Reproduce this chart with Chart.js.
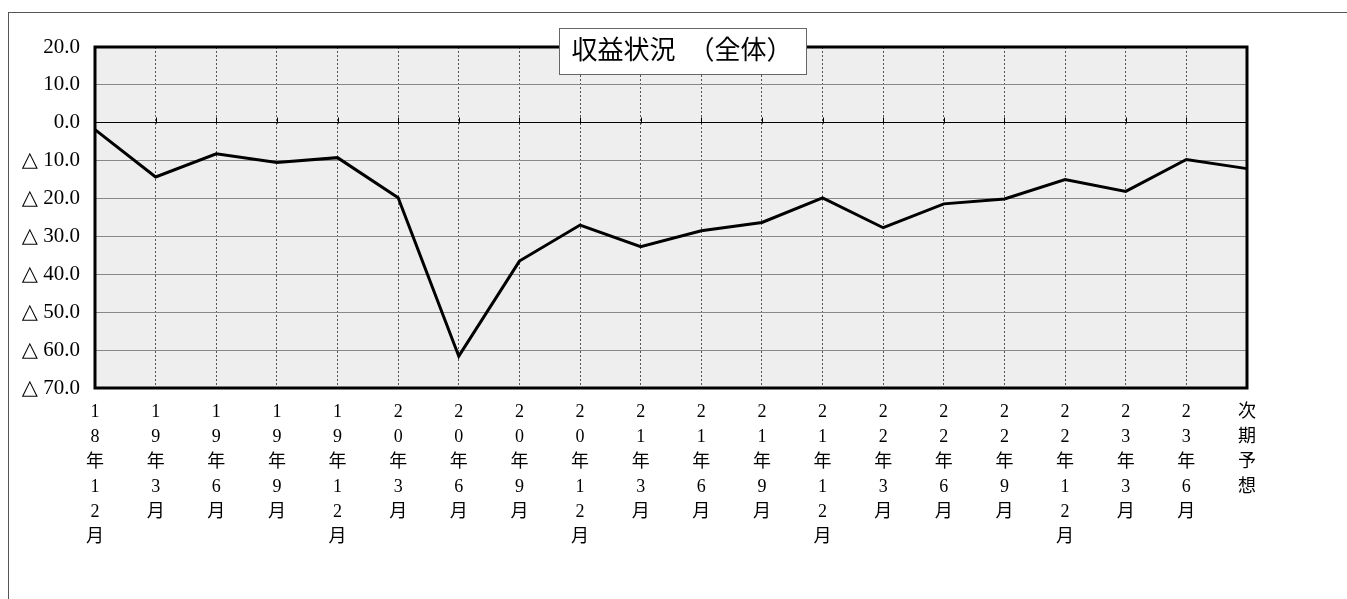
<!DOCTYPE html>
<html>
<head>
<meta charset="utf-8">
<title>収益状況（全体）</title>
<script src="https://cdn.jsdelivr.net/npm/chart.js@4.4.1/dist/chart.umd.min.js"></script>
<style>
  html, body { margin: 0; padding: 0; background: #fff; }
  #frame {
    position: absolute; left: 8px; top: 12px; width: 1339px; height: 587px;
    border-top: 1px solid #555; border-left: 1px solid #555; box-sizing: border-box;
  }
  #wrap { position: absolute; left: 0; top: 0; width: 1347px; height: 599px; }
</style>
</head>
<body>
<div id="frame"></div>
<div id="wrap"><canvas id="chartShueki"></canvas></div>
<script>
const categories = [
  "18年12月", "19年3月", "19年6月", "19年9月", "19年12月",
  "20年3月", "20年6月", "20年9月", "20年12月", "21年3月",
  "21年6月", "21年9月", "21年12月", "22年3月", "22年6月",
  "22年9月", "22年12月", "23年3月", "23年6月", "次期予想"
];
const profit = [
  -1.8, -14.3, -8.2, -10.5, -9.2,
  -19.8, -61.6, -36.5, -27.0, -32.7,
  -28.5, -26.3, -19.8, -27.7, -21.4,
  -20.1, -15.0, -18.1, -9.7, -12.1
];
const yTickValues = [20, 10, 0, -10, -20, -30, -40, -50, -60, -70];
const yTickLabels = ["20.0", "10.0", "0.0", "△ 10.0", "△ 20.0", "△ 30.0", "△ 40.0", "△ 50.0", "△ 60.0", "△ 70.0"];
const chartTitle = "収益状況　（全体）";

const serif = "'Liberation Serif', 'DejaVu Serif', 'Noto Sans CJK JP', serif";

// background, zero-line ticks, thick frame and the boxed title
const plotDecor = {
  id: "plotDecor",
  beforeDraw(chart) {
    const a = chart.chartArea, c = chart.ctx;
    c.save();
    c.fillStyle = "#eeeeee";
    c.fillRect(a.left, a.top, a.right - a.left, a.bottom - a.top);
    c.restore();
  },
  afterDatasetsDraw(chart) {
    const a = chart.chartArea, c = chart.ctx;
    const xs = chart.scales.x;
    const y0 = Math.round(chart.scales.y.getPixelForValue(0)) + 0.5;
    c.save();
    c.strokeStyle = "#000";
    c.lineWidth = 1;
    xs.ticks.forEach(function (t, i) {
      const px = Math.round(xs.getPixelForTick(i)) + 0.5;
      c.beginPath();
      c.moveTo(px, y0 - 6);
      c.lineTo(px, y0);
      c.stroke();
    });
    c.lineWidth = 3;
    c.strokeRect(a.left, a.top, a.right - a.left, a.bottom - a.top);

    c.font = "26px " + serif;
    const tw = c.measureText(chartTitle).width;
    const bw = Math.max(247, tw + 20), bh = 46;
    const cx = (a.left + a.right) / 2 + 11;
    const bx = Math.round(cx - bw / 2) + 0.5, by = a.top - 19 + 0.5;
    c.fillStyle = "#fff";
    c.fillRect(bx, by, bw, bh);
    c.strokeStyle = "#666";
    c.lineWidth = 1;
    c.strokeRect(bx, by, bw, bh);
    c.fillStyle = "#000";
    c.textAlign = "center";
    c.textBaseline = "middle";
    c.fillText(chartTitle, cx, by + bh / 2 + 1);
    c.restore();
  }
};

document.addEventListener("DOMContentLoaded", function () {
  const ctx = document.getElementById("chartShueki").getContext("2d");

  new Chart(ctx, {
    type: "line",
    data: {
      labels: categories,
      datasets: [
        {
          label: "収益状況",
          data: profit,
          borderColor: "#000",
          borderWidth: 3,
          pointRadius: 0,
          tension: 0,
          fill: false,
        },
      ],
    },
    options: {
      responsive: true,
      maintainAspectRatio: false,
      animation: false,
      layout: { padding: { top: 47, right: 100, left: 0, bottom: 0 } },
      plugins: {
        legend: { display: false },
        tooltip: { enabled: false },
      },
      scales: {
        x: {
          offset: false,
          afterFit: function (scale) { scale.height = 211; },
          grid: { color: "#555", lineWidth: 1, drawTicks: false },
          border: { display: false, dash: [2, 2] },
          ticks: {
            autoSkip: false,
            maxRotation: 0,
            minRotation: 0,
            padding: 12,
            color: "#000",
            font: { family: serif, size: 18, lineHeight: 25 / 18 },
            callback: function (v, i) { return categories[i].split(""); },
          },
        },
        y: {
          min: -70,
          max: 20,
          afterFit: function (scale) { scale.width = 95; },
          grid: {
            drawTicks: false,
            lineWidth: 1,
            color: function (c) { return c.tick && c.tick.value === 0 ? "#000" : "#888"; },
          },
          border: { display: false },
          ticks: {
            stepSize: 10,
            padding: 15,
            color: "#000",
            font: { family: serif, size: 21 },
            callback: function (v) {
              const k = yTickValues.indexOf(v);
              return k >= 0 ? yTickLabels[k] : "";
            },
          },
        },
      },
    },
    plugins: [plotDecor],
  });
});
</script>
</body>
</html>
